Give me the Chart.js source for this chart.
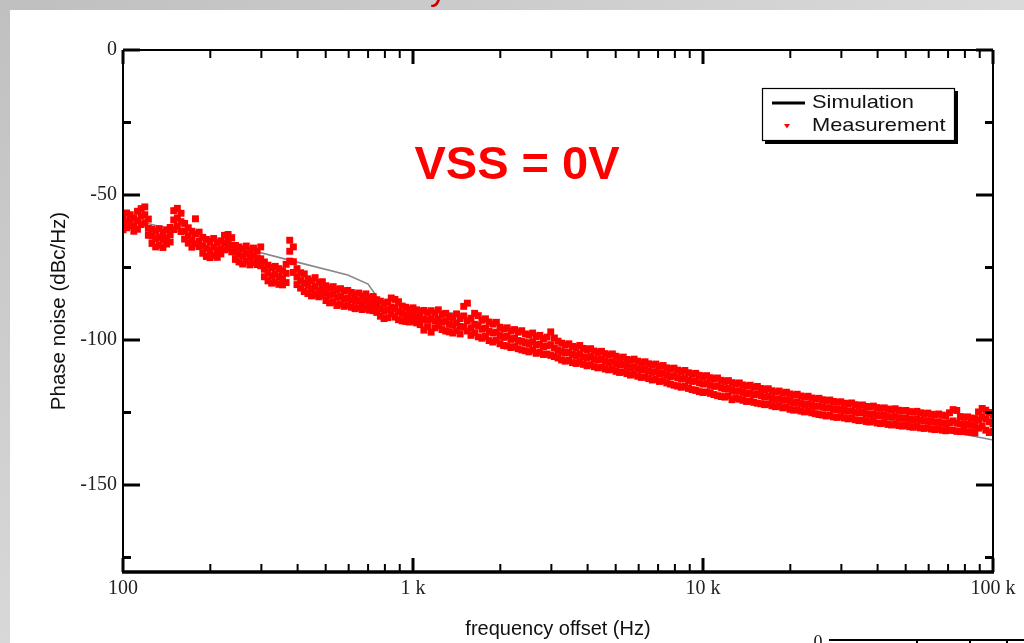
<!DOCTYPE html>
<html><head><meta charset="utf-8">
<script src="https://cdn.jsdelivr.net/npm/chart.js@4.4.1/dist/chart.umd.min.js"></script>
<style>html,body{margin:0;padding:0;background:#fff;overflow:hidden}#wrap{width:1024px;height:643px;position:relative}</style>
</head><body><div id="wrap"><canvas id="c" width="1024" height="643"></canvas></div>
<script>
// ---- Data ----
const simFreq = [100, 123.9, 407.6, 596, 700, 756, 832, 1000, 1208, 1451, 1800, 2900, 6399, 9208, 19422, 23272, 50000, 100000];
const simDb   = [-57.9, -60.0, -73.4, -77.6, -80.7, -85.5, -87.9, -89.0, -90.0, -91.0, -96.6, -101.7, -110.7, -114.1, -120.7, -122.8, -128.5, -134.5];

const measFreq = [
100,102.9,105.9,109,112.2,115.5,118.9,122.3,125.9,129.6,133.4,137.3,141.3,145.4,149.6,154,158.5,163.1,167.9,172.8,
177.8,183,188.4,193.9,199.5,205.4,211.4,217.5,223.9,230.4,237.1,244.1,251.2,258.5,266.1,273.8,281.8,290.1,298.5,307.3,
316.2,325.5,335,344.8,354.8,365.2,375.8,386.8,398.1,409.7,421.7,434,446.7,459.7,473.2,487,501.2,515.8,530.9,546.4,
562.3,578.8,595.7,613.1,631,649.4,668.3,687.9,708,728.6,749.9,771.8,794.3,817.5,841.4,866,891.3,917.3,944.1,971.6,
1000,1029,1059,1090,1122,1155,1189,1223,1259,1296,1334,1372,1413,1454,1496,1540,1585,1631,1679,1728,
1778,1830,1884,1939,1995,2054,2113,2175,2239,2304,2371,2441,2512,2585,2661,2738,2818,2901,2985,3073,
3162,3255,3350,3447,3548,3652,3758,3868,3981,4097,4217,4340,4467,4597,4732,4870,5012,5158,5309,5464,
5623,5788,5957,6131,6310,6494,6683,6879,7079,7286,7499,7718,7943,8175,8414,8660,8913,9173,9441,9716,
10000,10290,10590,10900,11220,11550,11890,12230,12590,12960,13340,13720,14130,14540,14960,15400,15850,16310,16790,17280,
17780,18300,18840,19390,19950,20540,21130,21750,22390,23040,23710,24410,25120,25850,26610,27380,28180,29010,29850,30730,
31620,32550,33500,34470,35480,36520,37580,38680,39810,40970,42170,43400,44670,45970,47320,48700,50120,51580,53090,54640,
56230,57880,59570,61310,63100,64940,66830,68790,70790,72860,74990,77180,79430,81750,84140,86600,89130,91730,94410,97160,
100000];

const measTop = [
-57.5,-56.2,-56.8,-57.9,-55.6,-54.7,-54.1,-58.3,-61.8,-62.4,
-61.6,-62.9,-62.0,-61.2,-55.4,-54.6,-56.3,-59.8,-61.3,-62.5,
-58.2,-62.8,-64.6,-65.3,-66.1,-65.0,-66.4,-65.8,-63.9,-63.6,
-64.7,-67.4,-67.9,-68.6,-67.6,-69.0,-68.3,-69.4,-67.9,-73.1,
-74.2,-75.0,-74.6,-75.4,-76.1,-73.9,-65.6,-67.9,-75.4,-76.8,
-77.2,-78.9,-79.6,-78.5,-80.2,-79.9,-81.3,-82.0,-81.6,-82.7,
-82.3,-83.1,-82.9,-83.6,-84.4,-83.8,-84.9,-84.1,-85.3,-85.0,
-86.1,-86.6,-87.4,-86.9,-85.5,-86.0,-86.8,-88.3,-88.7,-89.4,
-88.9,-89.6,-90.2,-89.8,-90.5,-89.9,-90.7,-89.6,-91.2,-90.8,
-91.9,-92.3,-91.0,-92.6,-88.4,-87.3,-92.5,-90.8,-91.6,-93.2,
-92.7,-93.8,-94.5,-93.9,-95.6,-96.2,-95.8,-96.9,-96.4,-97.3,
-96.8,-97.9,-98.3,-97.6,-98.8,-98.4,-99.5,-99.0,-97.2,-99.3,
-100.4,-101.1,-101.8,-101.3,-102.2,-102.6,-101.9,-102.9,-103.4,-103.0,
-103.8,-104.3,-103.9,-104.7,-105.2,-104.8,-105.6,-106.2,-105.9,-106.7,
-107.0,-106.6,-107.3,-107.8,-107.5,-108.2,-108.6,-108.3,-109.1,-108.8,
-109.6,-110.0,-109.7,-110.4,-110.9,-110.5,-111.3,-111.8,-111.5,-112.2,
-112.6,-112.3,-113.0,-113.4,-113.1,-113.9,-114.3,-114.0,-114.7,-115.1,
-114.8,-115.5,-115.9,-115.6,-116.3,-116.0,-116.7,-117.1,-116.8,-117.5,
-117.9,-117.6,-118.3,-118.0,-118.6,-119.0,-118.7,-119.3,-119.7,-119.4,
-120.0,-120.3,-120.1,-120.6,-120.9,-120.7,-121.2,-121.5,-121.3,-121.8,
-122.0,-121.7,-122.3,-122.6,-122.4,-122.9,-123.1,-122.8,-123.3,-123.6,
-123.4,-123.8,-124.0,-123.7,-124.2,-124.5,-124.3,-124.7,-124.9,-124.6,
-125.1,-125.4,-125.2,-125.6,-125.8,-125.5,-125.9,-126.2,-125.1,-124.0,
-124.3,-126.4,-126.7,-126.5,-126.9,-127.1,-124.8,-123.6,-124.2,-125.0,
-125.8];

const measMid = [
-60.0,-59.1,-58.4,-60.6,-58.9,-57.3,-56.8,-61.5,-64.2,-65.0,
-64.6,-65.3,-64.8,-63.7,-58.6,-57.9,-59.2,-62.4,-64.1,-65.6,
-63.4,-65.9,-67.5,-68.4,-69.2,-68.0,-69.1,-68.7,-66.5,-66.0,
-67.3,-69.8,-70.4,-71.1,-70.2,-71.5,-70.9,-71.9,-72.0,-75.6,
-76.8,-77.9,-77.3,-78.2,-78.7,-77.0,-69.4,-73.0,-78.3,-79.5,
-80.4,-81.2,-82.4,-81.6,-82.9,-82.3,-83.8,-84.6,-84.1,-85.3,
-85.0,-85.8,-85.5,-86.1,-86.7,-86.4,-87.3,-86.6,-87.8,-87.4,
-88.3,-89.2,-90.0,-89.6,-88.6,-89.1,-90.2,-90.8,-91.3,-91.7,
-91.2,-92.0,-92.5,-92.9,-93.1,-92.7,-93.4,-92.8,-93.9,-93.5,
-94.6,-94.9,-94.1,-95.3,-91.7,-93.4,-95.8,-94.6,-95.1,-96.3,
-95.9,-97.0,-97.6,-97.3,-98.5,-99.1,-98.7,-99.8,-99.4,-100.2,
-100.5,-100.9,-101.3,-100.6,-101.7,-101.4,-102.3,-102.0,-101.6,-102.8,
-103.5,-104.1,-104.5,-104.3,-105.0,-105.5,-104.9,-105.8,-106.1,-105.7,
-106.5,-106.9,-106.6,-107.3,-107.8,-107.5,-108.2,-108.6,-108.4,-109.1,
-109.5,-109.3,-109.9,-110.3,-110.1,-110.7,-111.2,-110.9,-111.6,-111.4,
-112.1,-112.6,-112.3,-113.0,-113.5,-113.2,-113.9,-114.3,-114.1,-114.8,
-115.2,-115.0,-115.6,-116.0,-115.8,-116.5,-116.9,-116.7,-117.3,-117.7,
-117.5,-118.1,-118.5,-118.3,-118.9,-118.6,-119.2,-119.7,-119.4,-120.1,
-120.5,-120.3,-120.8,-120.6,-121.2,-121.6,-121.4,-121.9,-122.3,-122.1,
-122.6,-122.9,-122.7,-123.2,-123.5,-123.3,-123.8,-124.0,-123.9,-124.3,
-124.6,-124.4,-124.9,-125.1,-125.0,-125.4,-125.7,-125.5,-125.9,-126.1,
-126.0,-126.4,-126.6,-126.3,-126.8,-127.0,-126.9,-127.3,-127.5,-127.2,
-127.7,-127.9,-127.8,-128.1,-128.4,-128.2,-128.6,-128.8,-128.5,-127.9,
-128.7,-129.0,-129.2,-129.1,-129.4,-129.6,-127.6,-126.5,-127.3,-128.2,
-128.9];

const measLow = [
-62.0,-61.3,-60.7,-62.5,-61.8,-60.2,-59.6,-63.9,-66.7,-67.9,
-67.3,-68.1,-66.9,-66.2,-61.9,-60.8,-62.6,-65.2,-66.6,-68.0,
-66.8,-67.8,-70.1,-71.2,-71.6,-70.8,-71.5,-70.3,-68.9,-68.4,
-69.6,-72.2,-73.1,-73.8,-72.9,-74.1,-73.4,-74.0,-74.4,-78.2,
-79.6,-80.4,-80.1,-80.8,-81.0,-80.2,-72.8,-76.7,-80.9,-82.1,
-83.3,-84.0,-84.8,-84.3,-85.1,-84.7,-86.4,-87.2,-86.9,-88.1,
-87.6,-88.4,-88.0,-88.7,-89.2,-88.9,-89.5,-89.1,-89.7,-89.9,
-90.5,-91.8,-92.6,-92.3,-91.0,-92.1,-93.0,-93.4,-93.6,-93.8,
-93.5,-94.1,-94.7,-96.6,-95.4,-97.3,-95.8,-95.1,-96.4,-96.9,
-97.2,-97.6,-96.8,-97.9,-95.6,-96.9,-98.4,-97.5,-98.9,-99.4,
-98.8,-100.2,-100.7,-100.1,-101.3,-101.9,-102.1,-102.6,-102.3,-103.0,
-103.4,-103.7,-104.1,-103.5,-104.6,-104.2,-105.0,-104.8,-105.3,-105.7,
-106.2,-106.9,-107.3,-107.0,-107.8,-108.1,-107.6,-108.4,-108.9,-108.5,
-109.2,-109.6,-109.4,-110.0,-110.3,-110.1,-110.8,-111.2,-111.0,-111.6,
-112.1,-111.8,-112.5,-112.9,-112.7,-113.3,-113.8,-113.6,-114.3,-114.0,
-114.8,-115.2,-115.6,-115.9,-116.3,-116.0,-116.7,-117.1,-117.4,-117.8,
-118.1,-117.9,-118.4,-118.8,-119.2,-119.5,-119.7,-119.3,-120.6,-120.1,
-120.4,-120.8,-121.2,-121.0,-121.5,-121.8,-122.0,-122.3,-122.1,-122.7,
-123.0,-122.8,-123.4,-123.2,-123.9,-124.2,-124.0,-124.5,-124.8,-124.6,
-125.1,-125.4,-125.7,-125.9,-126.2,-126.0,-126.5,-126.7,-126.4,-126.9,
-127.2,-127.0,-127.5,-127.8,-127.6,-128.1,-128.3,-128.0,-128.6,-128.8,
-128.5,-129.1,-129.3,-129.0,-129.5,-129.7,-129.4,-129.9,-130.1,-129.8,
-130.3,-130.5,-130.2,-130.7,-130.9,-130.6,-131.1,-131.3,-131.0,-131.2,
-131.5,-131.6,-131.4,-131.7,-131.8,-132.0,-130.4,-129.7,-131.1,-131.9,
-131.5];

const xTickVals = [100, 1000, 10000, 100000];
const xTickLabels = ['100', '1 k', '10 k', '100 k'];
const xMinorVals = [200,300,400,500,600,700,800,900,2000,3000,4000,5000,6000,7000,8000,9000,20000,30000,40000,50000,60000,70000,80000,90000];
const yTickVals = [0, -50, -100, -150];
const yTickLabels = ['0', '-50', '-100', '-150'];
const yMinorVals = [-25, -75, -125, -175];
const seriesNames = ['Simulation', 'Measurement'];
const annotationText = 'VSS = 0V';

// ---- build datasets ----
const simPts = simFreq.map((f, i) => ({x: f, y: simDb[i]}));
const measPts = [];
measFreq.forEach((f, i) => {
  measPts.push({x: f, y: measTop[i]});
  measPts.push({x: f, y: measMid[i]});
  measPts.push({x: f, y: measLow[i]});
});

const decor = {
  id: 'decor',
  beforeDraw(chart) {
    const ctx = chart.ctx, W = chart.width, H = chart.height;
    ctx.save();
    let g = ctx.createLinearGradient(0, 0, W, 0);
    g.addColorStop(0, '#bfbfbf'); g.addColorStop(1, '#dadada');
    ctx.fillStyle = g; ctx.fillRect(0, 0, W, 10);
    g = ctx.createLinearGradient(0, 0, 0, H);
    g.addColorStop(0, '#c0c0c0'); g.addColorStop(1, '#d8d8d8');
    ctx.fillStyle = g; ctx.fillRect(0, 0, 10, H);
    ctx.fillStyle = '#ffffff'; ctx.fillRect(10, 10, W - 10, H - 10);
    ctx.fillStyle = '#cc0000';
    ctx.font = '34px "Liberation Sans", Arial, sans-serif';
    ctx.textBaseline = 'alphabetic';
    ctx.save(); ctx.beginPath(); ctx.rect(0, 0, W, 10); ctx.clip();
    ctx.fillText('y', 430, 0);
    ctx.restore();
    ctx.restore();
  },
  afterDraw(chart) {
    const ctx = chart.ctx, a = chart.chartArea;
    const xs = chart.scales.x, ys = chart.scales.y;
    ctx.save();
    ctx.strokeStyle = '#000';
    ctx.lineCap = 'butt';
    const seg = (x1, y1, x2, y2, w) => { ctx.lineWidth = w; ctx.beginPath(); ctx.moveTo(x1, y1); ctx.lineTo(x2, y2); ctx.stroke(); };
    seg(a.left, a.top, a.right, a.top, 2);
    seg(a.right, a.top, a.right, a.bottom, 2);
    seg(a.left, a.top, a.left, a.bottom, 2);
    seg(a.left - 1, a.bottom, a.right + 1, a.bottom, 3.5);
    xTickVals.forEach(v => { const p = xs.getPixelForValue(v);
      seg(p, a.bottom, p, a.bottom - 14, 3); seg(p, a.top, p, a.top + 14, 3); });
    xMinorVals.forEach(v => { const p = xs.getPixelForValue(v);
      seg(p, a.bottom, p, a.bottom - 8, 2); seg(p, a.top, p, a.top + 8, 2); });
    yTickVals.forEach(v => { const p = ys.getPixelForValue(v);
      seg(a.left, p, a.left + 17, p, 3); seg(a.right, p, a.right - 17, p, 3); });
    yMinorVals.forEach(v => { const p = ys.getPixelForValue(v);
      seg(a.left, p, a.left + 8, p, 3); seg(a.right, p, a.right - 8, p, 3); });

    // legend box
    const lx = 762, ly = 88, lw = 193, lh = 53;
    ctx.fillStyle = '#000'; ctx.fillRect(lx + 3, ly + 3, lw, lh);
    ctx.fillStyle = '#fff'; ctx.fillRect(lx, ly, lw, lh);
    ctx.lineWidth = 1.2; ctx.strokeRect(lx + 0.5, ly + 0.5, lw - 1, lh - 1);
    seg(772, 103, 805, 103, 3);
    ctx.fillStyle = '#ff0000';
    ctx.beginPath(); ctx.moveTo(784, 124); ctx.lineTo(790, 124); ctx.lineTo(787, 128.5); ctx.closePath(); ctx.fill();
    ctx.fillStyle = '#111';
    ctx.font = '19px "Liberation Sans", Arial, sans-serif';
    ctx.textBaseline = 'middle'; ctx.textAlign = 'left';
    ctx.save(); ctx.translate(812, 0); ctx.scale(1.15, 1);
    ctx.fillText(seriesNames[0], 0, 103);
    ctx.fillText(seriesNames[1], 0, 126);
    ctx.restore();

    ctx.fillStyle = '#ff0000';
    ctx.font = 'bold 47px "Liberation Sans", Arial, sans-serif';
    ctx.textAlign = 'center';
    ctx.fillText(annotationText, 517, 166);

    ctx.fillStyle = '#111';
    ctx.font = '18px "Liberation Serif", serif';
    ctx.textAlign = 'center';
    ctx.fillText('0', 818, 643);
    seg(829, 640, 1024, 640, 2);
    [917, 970, 1007].forEach(x => seg(x, 640, x, 643, 2));
    ctx.restore();
  }
};

new Chart(document.getElementById('c'), {
  type: 'scatter',
  data: {
    datasets: [
      { type: 'line', label: seriesNames[0], data: simPts, borderColor: '#888888', borderWidth: 1.6,
        pointRadius: 0, fill: false, tension: 0, order: 2 },
      { label: seriesNames[1], data: measPts, backgroundColor: '#ff0000', borderWidth: 0,
        pointStyle: 'rect', pointRadius: 4.9, pointHoverRadius: 4.9, order: 1 }
    ]
  },
  options: {
    responsive: false, animation: false, devicePixelRatio: 1,
    layout: { padding: { left: 0, top: 50, right: 31, bottom: 0 } },
    plugins: { legend: { display: false }, tooltip: { enabled: false } },
    scales: {
      x: {
        type: 'logarithmic', min: 100, max: 100000, position: 'bottom',
        grid: { display: false, drawTicks: false }, border: { display: false },
        afterBuildTicks: s => { s.ticks = xTickVals.map(v => ({ value: v })); },
        afterFit: s => { s.height = 71; },
        ticks: { autoSkip: false, maxRotation: 0, padding: 5, color: '#222',
          font: { family: '"Liberation Serif", serif', size: 20 },
          callback: (v, i) => xTickLabels[i] },
        title: { display: true, text: 'frequency offset (Hz)', color: '#111',
          font: { family: '"Liberation Sans", Arial, sans-serif', size: 20 }, padding: { top: 0, bottom: 2 } }
      },
      y: {
        type: 'linear', min: -180, max: 0, position: 'left',
        grid: { display: false, drawTicks: false }, border: { display: false },
        afterBuildTicks: s => { s.ticks = yTickVals.map(v => ({ value: v })); },
        afterFit: s => { s.width = 123; },
        ticks: { autoSkip: false, padding: 6, color: '#222',
          font: { family: '"Liberation Serif", serif', size: 20 },
          callback: (v, i) => yTickLabels[i] },
        title: { display: true, text: 'Phase noise (dBc/Hz)', color: '#111',
          font: { family: '"Liberation Sans", Arial, sans-serif', size: 20.5 }, padding: { top: 47, bottom: 0 } }
      }
    }
  },
  plugins: [decor]
});
</script>
</body></html>
